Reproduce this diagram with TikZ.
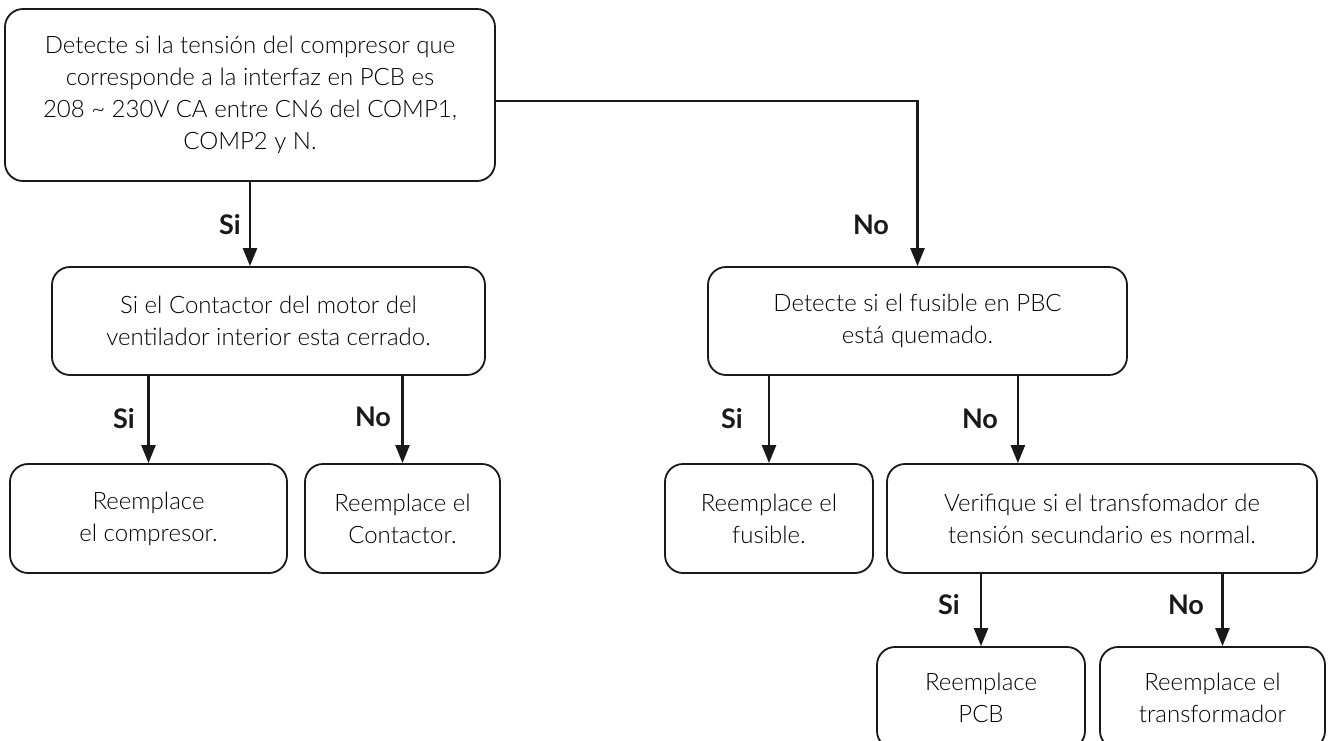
\documentclass[tikz,border=0pt]{standalone}
\usepackage{fontspec}
\setmainfont{Lato}[UprightFont=* Light, BoldFont=* Bold]
\usetikzlibrary{arrows.meta,calc}
\tikzset{
  box/.style={draw=black!90, line width=1.8pt, rounded corners=18pt, align=center, inner sep=0pt,
    font=\fontsize{24}{32}\selectfont},
  conn/.style={line width=2.4pt, draw=black!90, -{Triangle[length=18pt,width=14pt]}},
  lbl/.style={font=\fontsize{27}{30}\selectfont\bfseries, text=black!90},
}
\begin{document}
\begin{tikzpicture}[x=1pt,y=-1pt]
\useasboundingbox (0,0) rectangle (1328,740);
\fill[white] (0,0) rectangle (1328,740);
\node[box, minimum width=490pt, minimum height=172pt] (top) at (250,95)
  {Detecte si la tensión del compresor que\\corresponde a la interfaz en PCB es\\208 \textasciitilde{} 230V CA entre CN6 del COMP1,\\COMP2 y N.};
\node[box, minimum width=433pt, minimum height=108pt] (b2) at (268.5,321)
  {Si el Contactor del motor del\\ventilador interior esta cerrado.};
\node[box, minimum width=419pt, minimum height=108pt] (b3) at (917.5,321)
  {Detecte si el fusible en PBC\\está quemado.};
\node[box, minimum width=277pt, minimum height=109pt] (r1) at (148.5,518.5)
  {Reemplace\\el compresor.};
\node[box, minimum width=195pt, minimum height=109pt] (r2) at (402.5,518.5)
  {Reemplace el\\Contactor.};
\node[box, minimum width=208pt, minimum height=109pt] (r3) at (769,518.5)
  {Reemplace el\\fusible.};
\node[box, minimum width=430pt, minimum height=109pt] (b4) at (1102,518.5)
  {Verifique si el transfomador de\\tensión secundario es normal.};
\node[box, minimum width=208pt, minimum height=102pt] (r5) at (981,698)
  {Reemplace\\PCB};
\node[box, minimum width=225pt, minimum height=102pt] (r6) at (1212.5,698)
  {Reemplace el\\transformador};
% connectors
\draw[conn] (top.south) -- (top.south |- b2.north);
\draw[conn] ($(top.east)+(0,6)$) -| (b3.north);
\draw[conn] (r1.north |- b2.south) -- (r1.north);
\draw[conn] (r2.north |- b2.south) -- (r2.north);
\draw[conn] (r3.north |- b3.south) -- (r3.north);
\draw[conn] ([xshift=-110pt]b3.south east) -- ([xshift=-110pt]b3.south east |- b4.north);
\draw[conn] (r5.north |- b4.south) -- (r5.north);
\draw[conn] ([xshift=10pt]r6.north |- b4.south) -- ([xshift=10pt]r6.north);
% labels
\node[lbl] (l1) at (230,225) {Si};
\node[lbl] (l2) at (871,225) {No};
\node[lbl] (l3) at (124,419) {Si};
\node[lbl] (l4) at (373,417) {No};
\node[lbl] (l5) at (732,419) {Si};
\node[lbl] (l6) at (980,419) {No};
\node[lbl] (l7) at (949,605) {Si};
\node[lbl] (l8) at (1186,605) {No};
\end{tikzpicture}
\end{document}
